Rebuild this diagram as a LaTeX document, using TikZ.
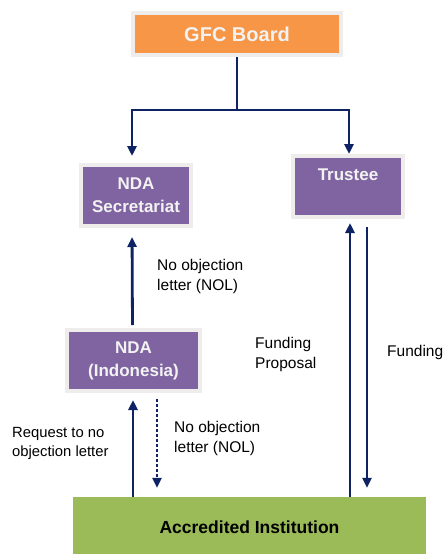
\documentclass[tikz,border=0pt]{standalone}
\usepackage{fontspec}
\setmainfont{Liberation Sans}
\usepackage{xcolor}
\definecolor{gfcorange}{RGB}{247,150,70}
\definecolor{ndapurple}{RGB}{128,100,162}
\definecolor{aigreen}{RGB}{155,187,89}
\definecolor{linenavy}{RGB}{14,35,99}
\definecolor{shadowgray}{RGB}{239,237,235}
\usetikzlibrary{arrows.meta, positioning, calc}

\begin{document}
\begin{tikzpicture}[x=1pt, y=-1pt, >={Triangle[width=9pt,length=10pt]}]

        % Estilos dos blocos e textos
        \tikzstyle{block} = [rectangle, draw=shadowgray, line width=4pt, fill=ndapurple, text=white!95!black, align=center, inner sep=0pt, font=\bfseries\fontsize{17}{23}\selectfont]
        \tikzstyle{inst} = [rectangle, fill=aigreen, text=black, inner sep=0pt, font=\bfseries\fontsize{17.5}{21}\selectfont]
        \tikzstyle{note} = [anchor=west, align=left, inner sep=0pt, font=\fontsize{15.5}{20}\selectfont]
        \tikzstyle{flow} = [linenavy, line width=2.8pt]

        \useasboundingbox (0,0) rectangle (446,554);

        % Blocos
        \node [block, fill=gfcorange, minimum width=208pt, minimum height=42pt, font=\bfseries\fontsize{20}{24}\selectfont] (gfc) at (237,34) {GFC Board};
        \node [block, minimum width=110pt, minimum height=61pt] (ndasec) at (136,195.5) {NDA\\Secretariat};
        \node [block, minimum width=110pt, minimum height=61pt] (trustee) at (348,186.5) {Trustee\\~};
        \node [block, minimum width=133pt, minimum height=61pt] (ndaind) at (133.5,360.5) {NDA\\(Indonesia)};
        \node [inst, minimum width=353pt, minimum height=60pt] (ai) at (249.5,527) {Accredited Institution};

        % Textos das setas
        \node [note] (nolsec) at (157,276) {No objection\\letter (NOL)};
        \node [note] (fundprop) at (255,354.5) {Funding\\Proposal};
        \node [note] (fund) at (387,352) {Funding};
        \node [note] (nolai) at (174,438) {No objection\\letter (NOL)};
        \node [note, font=\fontsize{14.8}{19.5}\selectfont] (reqnol) at (12,443.5) {Request to no\\objection letter};

        % ---------------------------------------------------------
        % Ligacoes
        % ---------------------------------------------------------

        % 1. GFC Board para NDA Secretariat e Trustee
        \draw [flow] (gfc.south) -- ++(0,53) coordinate (split);
        \draw [flow, ->, shorten >=7pt] (split) -| ($(ndasec.north)+(-4,0)$);
        \draw [flow, ->] (split) -| ($(trustee.north)+(1,0)$);

        % 2. NDA (Indonesia) para NDA Secretariat
        \draw [flow, ->, shorten <=3pt, shorten >=9pt] ($(ndaind.north)+(-1,0)$) -- ($(ndasec.south)+(-4,0)$);

        % 3. Accredited Institution e NDA (Indonesia)
        \draw [flow, ->, shorten >=7pt] ($(ai.north)+(-116.5,0)$) -- ($(ndaind.south)+(-0.5,0)$);
        \draw [flow, ->, dash pattern=on 2.5pt off 2.5pt, shorten <=6pt, shorten >=9pt] ($(ndaind.south)+(23.5,0)$) -- ($(ai.north)+(-92.5,0)$);

        % 4. Accredited Institution e Trustee
        \draw [flow, ->, shorten >=4pt] ($(ai.north)+(100.5,0)$) -- ($(trustee.south)+(2,0)$);
        \draw [flow, ->, shorten <=8pt, shorten >=9pt] ($(trustee.south)+(19,0)$) -- ($(ai.north)+(117.5,0)$);
    \end{tikzpicture}
\end{document}
